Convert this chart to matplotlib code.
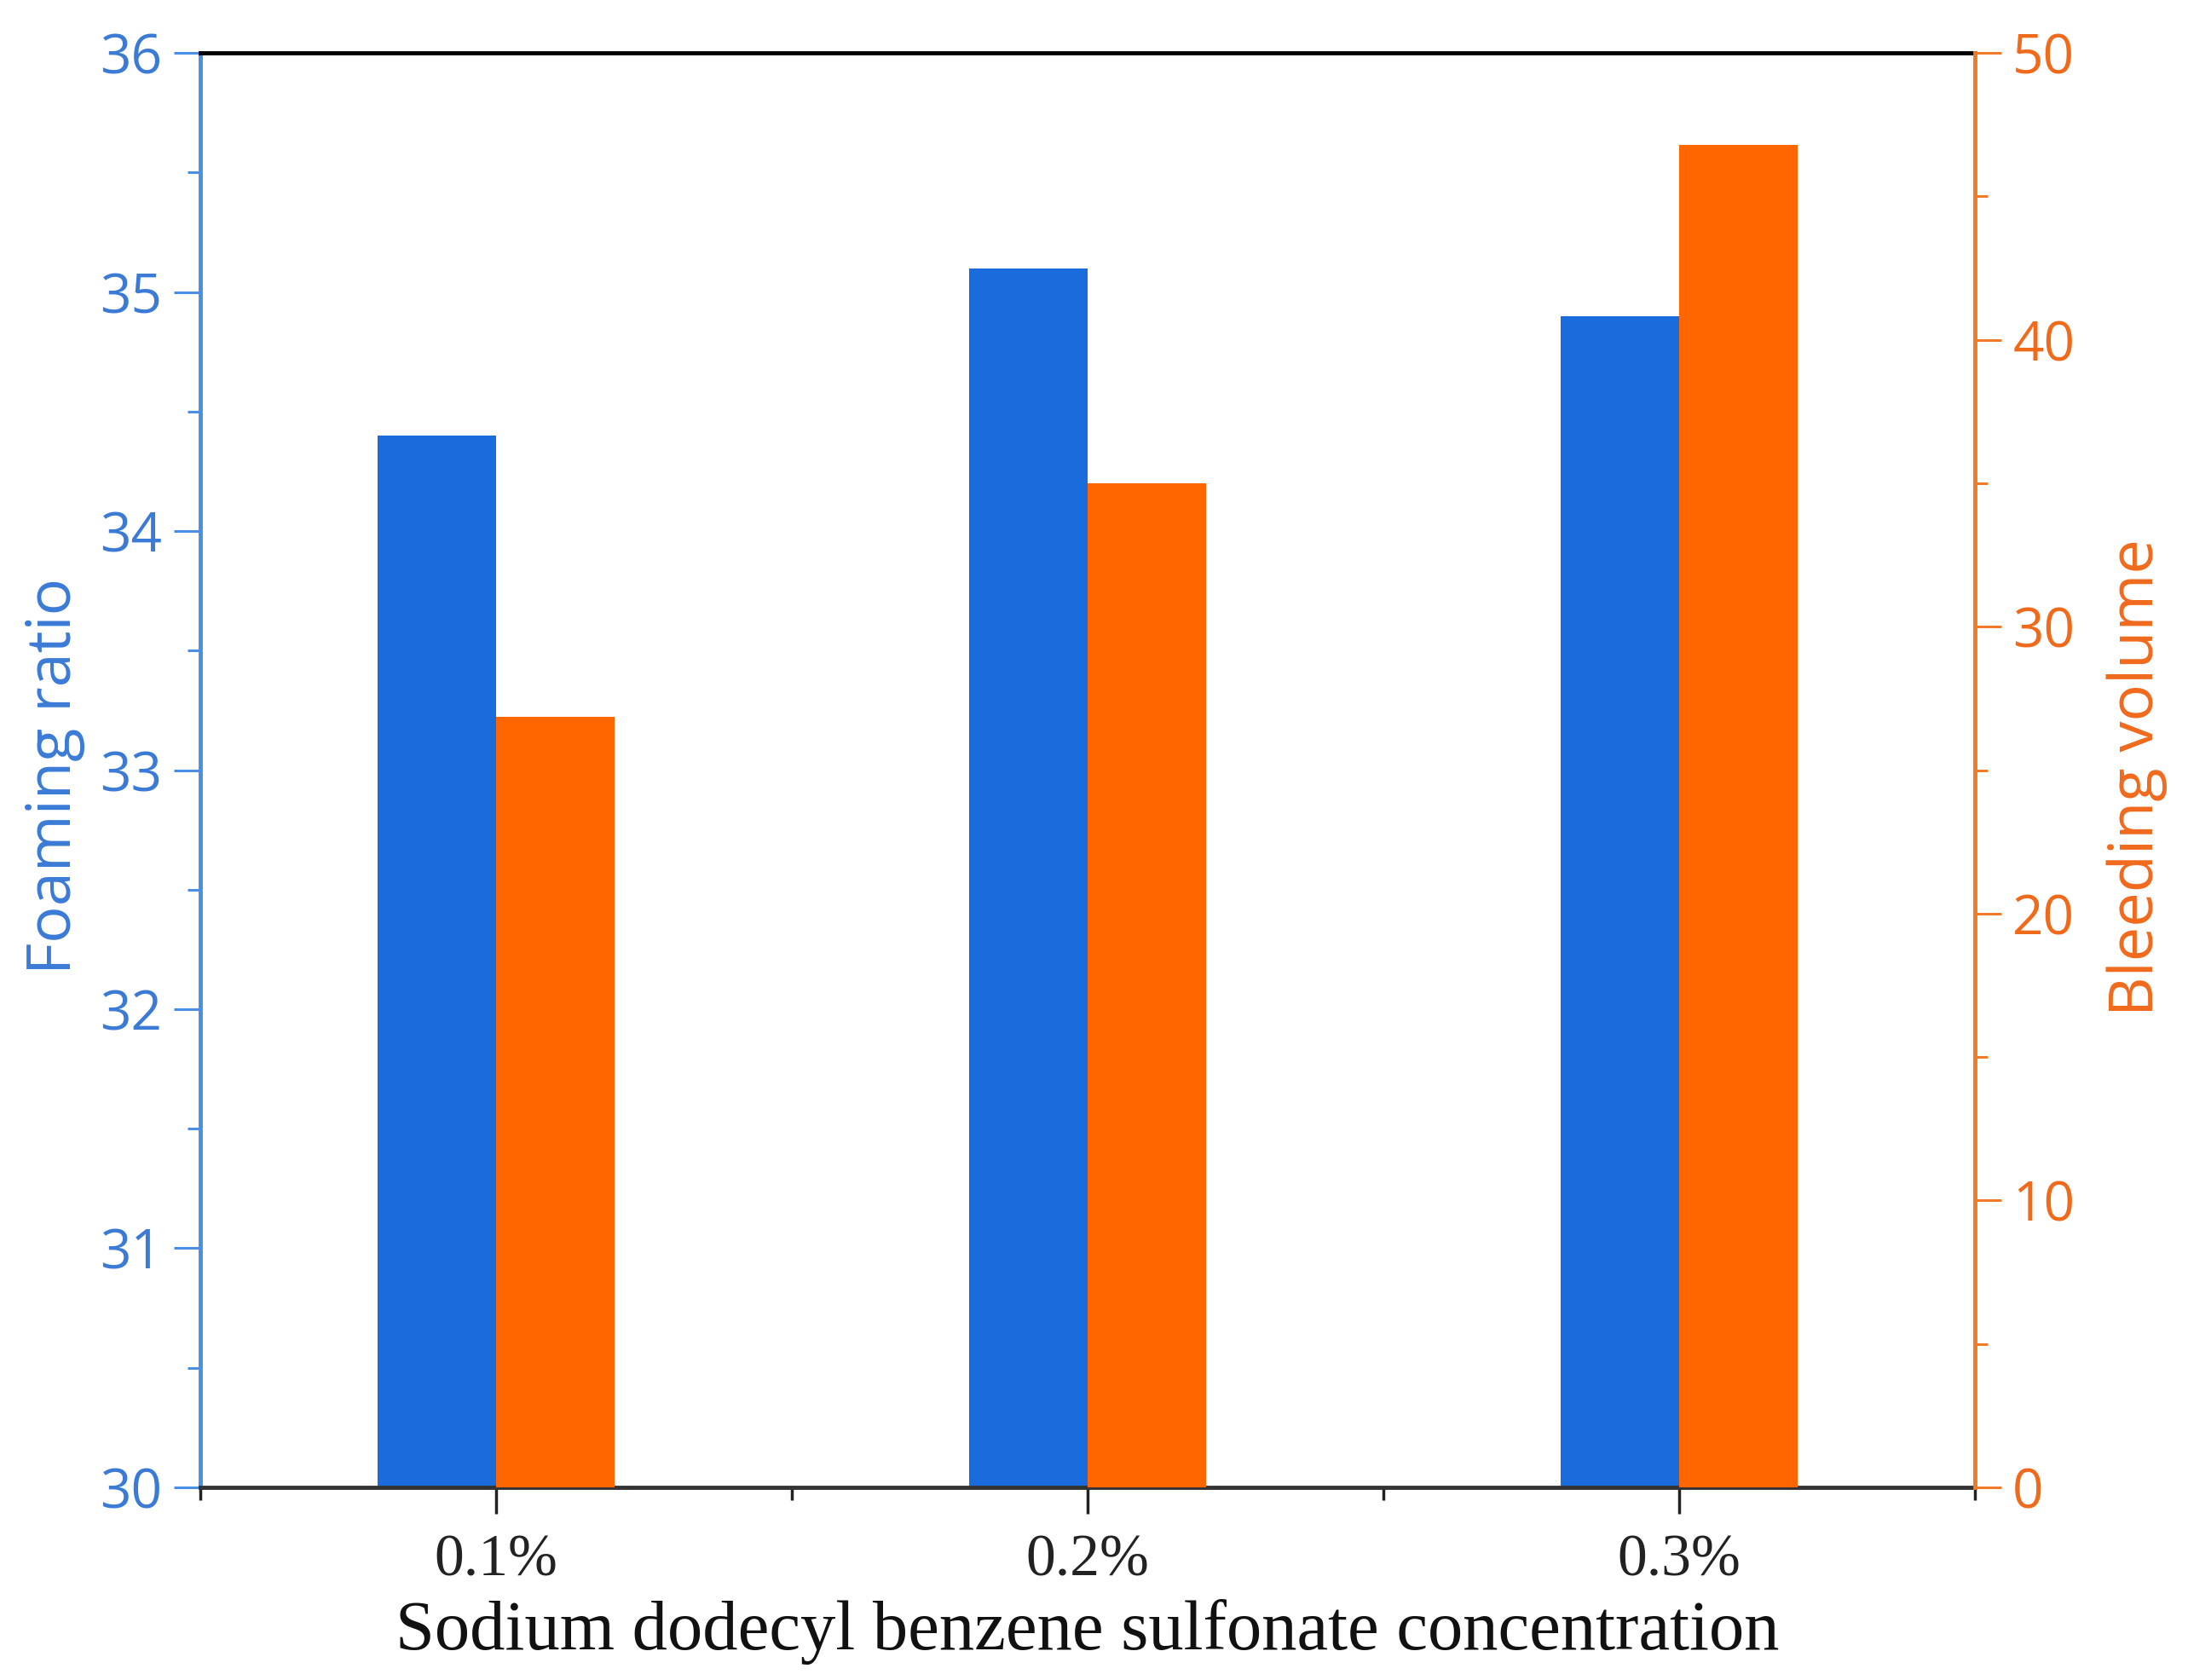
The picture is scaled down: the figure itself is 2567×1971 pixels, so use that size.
import matplotlib
matplotlib.use("Agg")
import matplotlib.pyplot as plt
import numpy as np
from matplotlib.ticker import MultipleLocator

categories = ["0.1%", "0.2%", "0.3%"]
foaming_ratio = [34.4, 35.1, 34.9]
bleeding_volume = [26.85, 35.0, 46.8]

BLUE_BAR = "#1a6cdc"
ORANGE_BAR = "#ff6600"
BLUE_AXIS = "#4a8fe6"
BLUE_TEXT = "#3b7bd6"
ORANGE_AXIS = "#f07a28"
ORANGE_TEXT = "#f06a1c"
BAR_WIDTH = 0.2

SANS = ["Open Sans", "DejaVu Sans"]
SERIF = ["Liberation Serif", "DejaVu Serif"]

fig = plt.figure(figsize=(25.67, 19.71), dpi=100)
ax = fig.add_axes([0.0915, 0.1147, 0.811, 0.8538])
ax2 = ax.twinx()

x = np.arange(len(categories))
ax.bar(x - BAR_WIDTH / 2, foaming_ratio, BAR_WIDTH, color=BLUE_BAR,
       edgecolor=BLUE_BAR, linewidth=0, zorder=2)
ax2.bar(x + BAR_WIDTH / 2, bleeding_volume, BAR_WIDTH, color=ORANGE_BAR,
        edgecolor=ORANGE_BAR, linewidth=0, zorder=2)

ax.set_xlim(-0.5, 2.5)
ax.set_ylim(30, 36)
ax2.set_ylim(0, 50)

# left axis (blue)
ax.yaxis.set_major_locator(MultipleLocator(1))
ax.yaxis.set_minor_locator(MultipleLocator(0.5))
ax.tick_params(axis="y", which="major", direction="out", length=22, width=2.2,
               color=BLUE_AXIS, labelcolor=BLUE_TEXT, labelsize=46, pad=10)
ax.tick_params(axis="y", which="minor", direction="out", length=11, width=2.2,
               color=BLUE_AXIS)
for lab in ax.get_yticklabels():
    lab.set_family(SANS)

# right axis (orange)
ax2.yaxis.set_major_locator(MultipleLocator(10))
ax2.yaxis.set_minor_locator(MultipleLocator(5))
ax2.tick_params(axis="y", which="major", direction="out", length=22, width=2.2,
                color=ORANGE_AXIS, labelcolor=ORANGE_TEXT, labelsize=46, pad=10)
ax2.tick_params(axis="y", which="minor", direction="out", length=11, width=2.2,
                color=ORANGE_AXIS)
for lab in ax2.get_yticklabels():
    lab.set_family(SANS)

# x axis: categories + minor ticks at the group boundaries
ax.set_xticks(x)
ax.set_xticklabels(categories, family=SERIF, fontsize=50, color="#222222")
ax.set_xticks([-0.5, 0.5, 1.5, 2.5], minor=True)
ax.tick_params(axis="x", which="major", direction="out", length=22, width=2.5,
               color="#222222", pad=18)
ax.tick_params(axis="x", which="minor", direction="out", length=11, width=2.5,
               color="#222222")

# spines
for sp in ax2.spines.values():
    sp.set_visible(False)
ax2.spines["right"].set_visible(True)
ax2.spines["right"].set_color(ORANGE_AXIS)
ax2.spines["right"].set_linewidth(3.5)
ax.spines["left"].set_color(BLUE_AXIS)
ax.spines["left"].set_linewidth(3.5)
ax.spines["right"].set_visible(False)
ax.spines["top"].set_color("black")
ax.spines["top"].set_linewidth(3.5)
ax.spines["bottom"].set_color("#333333")
ax.spines["bottom"].set_linewidth(3.5)

ax.set_ylabel("Foaming ratio", family=SANS, fontsize=52, color=BLUE_TEXT)
ax2.set_ylabel("Bleeding volume", family=SANS, fontsize=52, color=ORANGE_TEXT)
ax.yaxis.set_label_coords(-0.0648, 0.496)
ax2.yaxis.set_label_coords(1.0744, 0.495)
ax.set_xlabel("Sodium dodecyl benzene sulfonate concentration", family=SERIF,
              fontsize=59.5, color="#111111", labelpad=9)

fig.savefig("out.png", dpi=100, facecolor="white")
